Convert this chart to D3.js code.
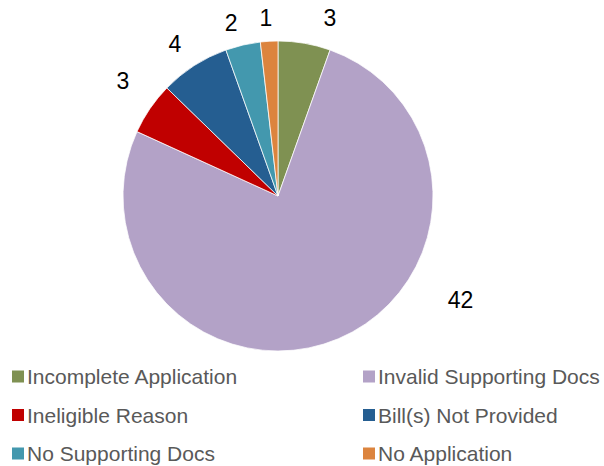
<!DOCTYPE html>
<html>
<head>
<meta charset="utf-8">
<script src="https://cdn.jsdelivr.net/npm/d3@7"></script>
<style>
  html, body { margin: 0; padding: 0; background: #fff; }
  svg { display: block; font-family: "Liberation Sans", Arial, sans-serif; }
</style>
</head>
<body>
<svg id="chart" width="604" height="466"></svg>
<script>
// Reasons applications were rejected, clockwise from 12 o'clock
const categories = [
  "Incomplete Application",
  "Invalid Supporting Docs",
  "Ineligible Reason",
  "Bill(s) Not Provided",
  "No Supporting Docs",
  "No Application"
];
const counts = [3, 42, 3, 4, 2, 1];
const palette = ["#7F9152", "#B3A2C7", "#C00000", "#255E91", "#4398AE", "#DC843E"];

const svg = d3.select("#chart");
const cx = 278, cy = 196, radius = 155;

const data = categories.map((name, i) => ({ name, value: counts[i], color: palette[i] }));

const pie = d3.pie().value(d => d.value).sort(null);
const arcs = pie(data);
const arc = d3.arc().innerRadius(0).outerRadius(radius);

const g = svg.append("g").attr("transform", `translate(${cx},${cy})`);

g.selectAll("path.slice")
  .data(arcs)
  .join("path")
  .attr("class", "slice")
  .attr("d", arc)
  .attr("fill", d => d.data.color)
  .attr("stroke", "#fff")
  .attr("stroke-width", 0.75);

// Value labels sit just outside the rim; the small slices near the top are
// fanned out slightly so their numbers don't crowd each other.
const labelShift = { // [angle offset in degrees, extra radius]
  "Incomplete Application": [6.5, 30],
  "Invalid Supporting Docs": [-37.5, 55],
  "Ineligible Reason": [2.2, 38],
  "Bill(s) Not Provided": [-1.4, 29],
  "No Supporting Docs": [-2.1, 24],
  "No Application": [-0.6, 23]
};

g.selectAll("text.value")
  .data(arcs)
  .join("text")
  .attr("class", "value")
  .each(function (d) {
    const [da, dr] = labelShift[d.data.name];
    const a = (d.startAngle + d.endAngle) / 2 + da * Math.PI / 180;
    const r = radius + dr;
    d3.select(this)
      .attr("x", Math.sin(a) * r)
      .attr("y", -Math.cos(a) * r);
  })
  .attr("text-anchor", "middle")
  .attr("dominant-baseline", "central")
  .attr("font-size", 23)
  .attr("fill", "#000")
  .text(d => d.data.value);

// Legend: two columns, three rows
const legendCols = [12, 363];
const legendRows = [376.5, 415, 453.5];

const legend = svg.selectAll("g.legend")
  .data(data)
  .join("g")
  .attr("class", "legend")
  .attr("transform", (d, i) => `translate(${legendCols[i % 2]},${legendRows[Math.floor(i / 2)]})`);

legend.append("rect")
  .attr("x", 0)
  .attr("y", -6)
  .attr("width", 12)
  .attr("height", 12)
  .attr("fill", d => d.color);

legend.append("text")
  .attr("x", 15)
  .attr("y", 0)
  .attr("dominant-baseline", "central")
  .attr("font-size", 21)
  .attr("fill", "#595959")
  .text(d => d.name);
</script>
</body>
</html>
